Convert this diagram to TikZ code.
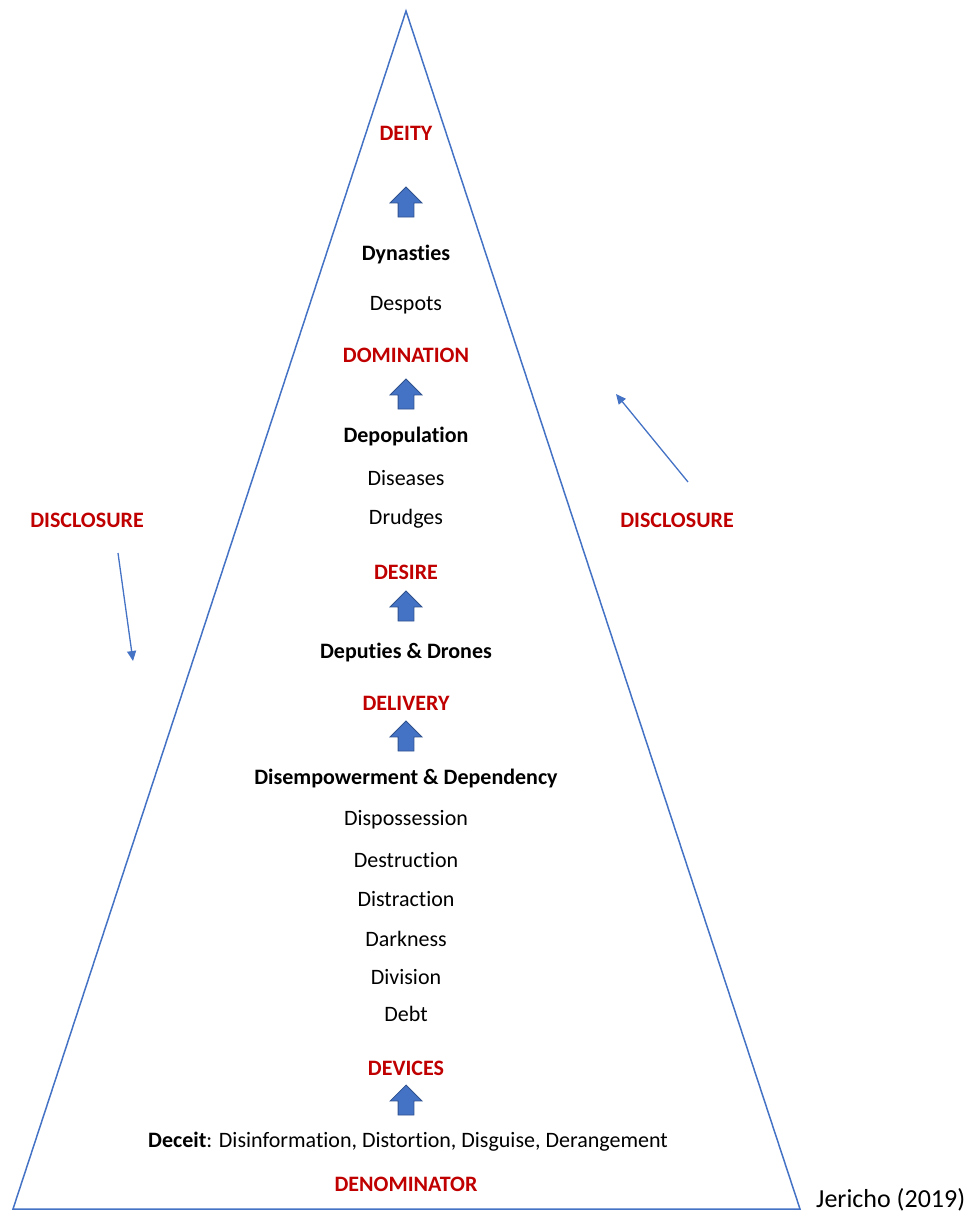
\documentclass[tikz,border=0pt]{standalone}
\usepackage{fontspec}
\setmainfont[RawFeature={-liga;-clig;-dlig;-calt}]{Carlito}
\usetikzlibrary{shapes.arrows,arrows.meta}
\definecolor{dred}{HTML}{C00000}
\definecolor{tblue}{HTML}{4472C4}
\definecolor{oblue}{HTML}{2F528F}
\tikzset{
  lbl/.style={inner sep=0pt, font=\fontsize{22}{26}\selectfont},
  red/.style={lbl, text=dred, font=\fontsize{22}{26}\selectfont\bfseries},
  blk/.style={lbl, text=black},
  bblk/.style={lbl, text=black, font=\fontsize{22}{26}\selectfont\bfseries},
  uparrow/.style={single arrow, draw=oblue, fill=tblue, line width=0.8pt,
    shape border rotate=90, minimum height=30pt, inner sep=7.5pt,
    single arrow head extend=8pt, single arrow tip angle=90},
  side/.style={draw=tblue, line width=1.3pt, -{Triangle[length=10pt,width=9pt]}}
}
\begin{document}
\begin{tikzpicture}[x=1pt,y=-1pt]
\useasboundingbox (0,0) rectangle (971,1213);
% triangle
\coordinate (apex) at (406,11);
\coordinate (bl) at (13,1209);
\coordinate (br) at (800,1209);
\draw[tblue, line width=1.5pt, line join=miter] (apex) -- (br) -- (bl) -- cycle;

\node[red] (deity) at (406,133) {DEITY};
\node[uparrow] (a1) at (406,206) {};
\node[bblk] (dyn) at (406,255) {Dynasties};
\node[blk] (desp) at (406,305) {Despots};
\node[red] (dom) at (406,355) {DOMINATION};
\node[uparrow] (a2) at (406,398) {};
\node[bblk] (depop) at (406,437) {Depopulation};
\node[blk] (dis) at (406,478) {Diseases};
\node[blk] (drud) at (406,519) {Drudges};
\node[red] (desire) at (406,572) {DESIRE};
\node[uparrow] (a3) at (406,610) {};
\node[bblk] (dep) at (406,653) {Deputies \& Drones};
\node[red] (deliv) at (406,703) {DELIVERY};
\node[uparrow] (a4) at (406,740) {};
\node[bblk] (disemp) at (406,779) {Disempowerment \& Dependency};
\node[blk] (dispo) at (406,820) {Dispossession};
\node[blk] (destr) at (406,860) {Destruction};
\node[blk] (distr) at (406,899) {Distraction};
\node[blk] (dark) at (406,939) {Darkness};
\node[blk] (divi) at (406,977) {Division};
\node[blk] (debt) at (406,1014) {Debt};
\node[red] (dev) at (406,1068) {DEVICES};
\node[uparrow] (a5) at (406,1104) {};
\node[blk] (dec) at (408,1142) {\textbf{Deceit}: Disinformation, Distortion, Disguise, Derangement};
\node[red] (den) at (406,1184) {DENOMINATOR};

\node[red] (discl) at (87,520) {DISCLOSURE};
\node[red] (discr) at (677,520) {DISCLOSURE};
\coordinate (l1) at (118,553);
\coordinate (l2) at (133,661);
\coordinate (r1) at (688,482);
\coordinate (r2) at (616,394);
\draw[side] (l1) -- (l2);
\draw[side] (r1) -- (r2);

\node[lbl, anchor=south west, font=\fontsize{26}{30}\selectfont] (jer) at (816,1211) {Jericho (2019)};
\end{tikzpicture}
\end{document}
